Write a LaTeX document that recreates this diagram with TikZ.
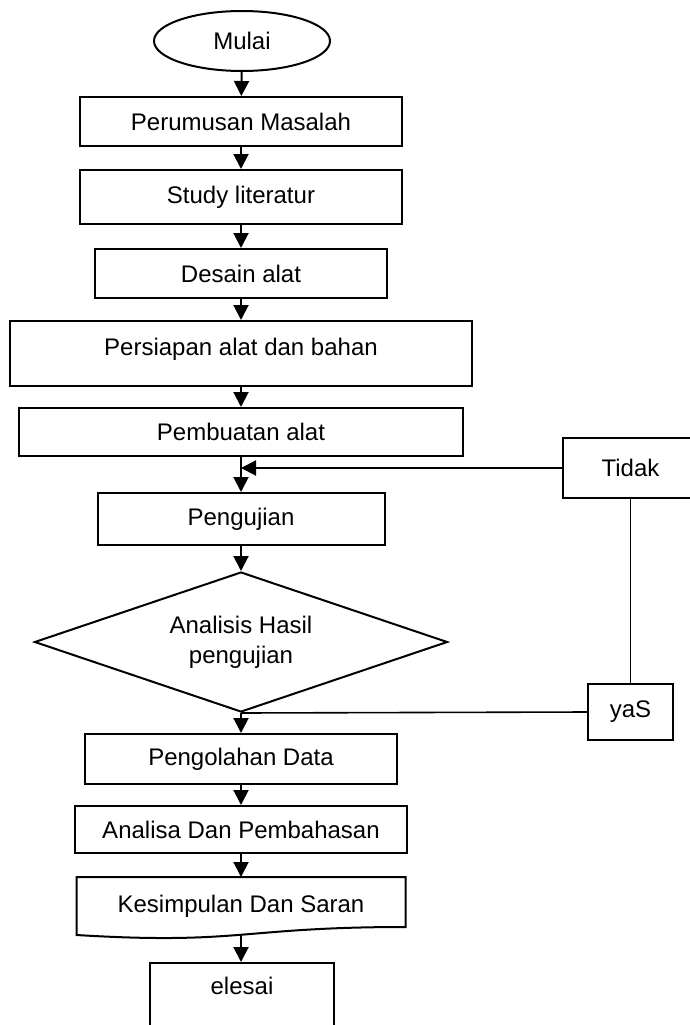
\documentclass[tikz,border=0pt]{standalone}
\usepackage{fontspec}
\setmainfont{Liberation Sans}
\usetikzlibrary{arrows.meta,shapes.geometric}

\begin{document}
\begin{tikzpicture}[
    x=1pt, y=-1pt,
    box/.style={draw, line width=2pt, inner sep=0pt, align=center, font=\fontsize{24}{30}\selectfont},
    terminal/.style={box, ellipse},
    decision/.style={box, diamond, aspect=2.95},
    arrow/.style={-{Triangle[length=15pt,width=15pt]}, line width=2pt},
    link/.style={line width=1.6pt}
]
    \useasboundingbox (0,0) rectangle (689,1025);

    % Boxes
    \node[terminal, minimum width=176pt, minimum height=60pt] (mulai) at (242,41) {Mulai};
    \node[box, minimum width=322pt, minimum height=49pt] (rumus) at (241,121.5) {Perumusan Masalah};
    \node[box, minimum width=322pt, minimum height=54pt] (studi) at (241,197) {Study literatur};
    \node[box, minimum width=292pt, minimum height=49pt] (desain) at (241,273.5) {Desain alat};
    \node[box, minimum width=462pt, minimum height=65pt, text depth=14pt] (siap) at (241,353.5) {Persiapan alat dan bahan};
    \node[box, minimum width=444pt, minimum height=48pt] (buat) at (241,432) {Pembuatan alat};
    \node[box, minimum width=287pt, minimum height=52pt] (uji) at (241,519) {Pengujian};
    \node[decision, minimum width=413pt, minimum height=140pt] (hasil) at (241,642) {Analisis Hasil\\pengujian};
    \node[box, minimum width=135pt, minimum height=60pt] (tidak) at (630.5,468) {Tidak};
    \node[box, minimum width=85pt, minimum height=56pt] (yas) at (630.5,712) {yaS};
    \node[box, minimum width=312pt, minimum height=50pt] (olah) at (241,759) {Pengolahan Data};
    \node[box, minimum width=332pt, minimum height=47pt] (bahas) at (241,829.5) {Analisa Dan Pembahasan};
    \node[box, draw=none, minimum width=327pt, minimum height=56pt] (kes) at (241,906) {Kesimpulan Dan Saran};
    \node[box, minimum width=184pt, minimum height=82pt, text height=17pt, text depth=37pt] (selesai) at (242,1004) {elesai};

    % Document shape
    \draw[box] (kes.north west) -- (kes.north east) -- ([yshift=8pt]kes.south east)
        .. controls ([yshift=8pt]kes.south) and ([yshift=-10pt]kes.south) .. (kes.south west) -- cycle;

    % Arrows
    \draw[arrow] (mulai) -- (rumus);
    \draw[arrow] (rumus) -- (studi);
    \draw[arrow] (studi) -- (desain);
    \draw[arrow] (desain) -- (siap);
    \draw[arrow] (siap) -- (buat);
    \draw[arrow] (buat) -- (uji);
    \draw[arrow] (uji) -- (hasil);
    \draw[arrow] (hasil.south) -- (olah.north);
    \draw[arrow] (olah) -- (bahas);
    \draw[arrow] (bahas) -- (bahas |- kes.north);
    \draw[arrow] (kes.south) -- (kes.south |- selesai.north);
    \draw[arrow] (tidak.west) -- (tidak.west -| uji.north);

    % Loop back
    \draw[link] (yas.north) -- (tidak.south);
    \draw[link] (yas.west) -- (hasil.south);
\end{tikzpicture}
\end{document}
